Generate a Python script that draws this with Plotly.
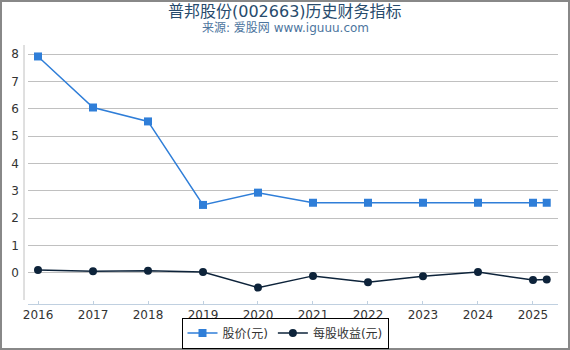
import plotly.graph_objects as go

years = [2016, 2017, 2018, 2019, 2020, 2021, 2022, 2023, 2024, 2025, 2025.25]
price = [7.92, 6.05, 5.54, 2.48, 2.93, 2.56, 2.56, 2.56, 2.56, 2.56, 2.56]
eps = [0.10, 0.05, 0.07, 0.02, -0.55, -0.12, -0.35, -0.13, 0.02, -0.27, -0.25]
tick_years = [2016, 2017, 2018, 2019, 2020, 2021, 2022, 2023, 2024, 2025]
y_ticks = [0, 1, 2, 3, 4, 5, 6, 7, 8]

FONT = "DejaVu Sans, Noto Sans CJK SC, sans-serif"
W, H = 570, 350
ML, MR, MT, MB = 28, 12, 45, 46
PW, PH = W - ML - MR, H - MT - MB
CX = (W / 2 - ML) / PW  # figure centre in paper coords

fig = go.Figure()
fig.add_trace(go.Scatter(
    x=years, y=price, name="股价(元)", mode="lines+markers",
    line=dict(color="#2f7ed8", width=1.5),
    marker=dict(symbol="square", size=8, color="#2f7ed8"),
))
fig.add_trace(go.Scatter(
    x=years, y=eps, name="每股收益(元)", mode="lines+markers",
    line=dict(color="#0d233a", width=1.5),
    marker=dict(symbol="circle", size=8, color="#0d233a"),
))

fig.update_layout(
    width=W, height=H,
    margin=dict(l=ML, r=MR, t=MT, b=MB, autoexpand=False),
    paper_bgcolor="white", plot_bgcolor="white",
    font=dict(family=FONT, size=12, color="#333"),
    xaxis=dict(
        range=[2015.818, 2025.455], tickvals=tick_years,
        ticktext=[str(y) for y in tick_years],
        showgrid=False, zeroline=False, showline=True, linecolor="#C0D0E0", linewidth=1,
        ticks="inside", ticklen=3, tickcolor="#C0D0E0",
        tickfont=dict(size=12, color="#333"),
    ),
    yaxis=dict(
        range=[-1.15, 8.34], tickvals=y_ticks,
        showgrid=True, gridcolor="#C0C0C0", gridwidth=1, zeroline=False,
        showline=False, ticks="", ticklabelstandoff=8,
        tickfont=dict(size=12, color="#333"),
    ),
    legend=dict(
        orientation="h", x=CX, xanchor="center", y=-(MB - 1.5) / PH, yanchor="bottom",
        bordercolor="black", borderwidth=1, bgcolor="white",
        font=dict(size=12, color="#333", family=FONT), itemwidth=30,
        tracegroupgap=0,
    ),
    showlegend=True,
)

fig.add_annotation(text="普邦股份(002663)历史财务指标", xref="paper", yref="paper",
                   x=CX, y=1 + (MT - 11) / PH, xanchor="center", yanchor="middle",
                   showarrow=False, font=dict(size=16, color="#274b6d", family=FONT))
fig.add_annotation(text="来源: 爱股网 www.iguuu.com", xref="paper", yref="paper",
                   x=CX, y=1 + (MT - 28) / PH, xanchor="center", yanchor="middle",
                   showarrow=False, font=dict(size=12, color="#4d759e", family=FONT))

# y-axis line slightly left of the plot area
fig.add_shape(type="line", xref="paper", yref="paper",
              x0=-4 / PW, x1=-4 / PW, y0=4 / PH, y1=1,
              line=dict(color="#C0C0C0", width=1))
# outer frame
fig.add_shape(type="rect", xref="paper", yref="paper",
              x0=-(ML - 1) / PW, x1=1 + (MR - 1) / PW,
              y0=-(MB - 1) / PH, y1=1 + (MT - 1) / PH,
              line=dict(color="#888888", width=2))

fig.write_html("out.html")
